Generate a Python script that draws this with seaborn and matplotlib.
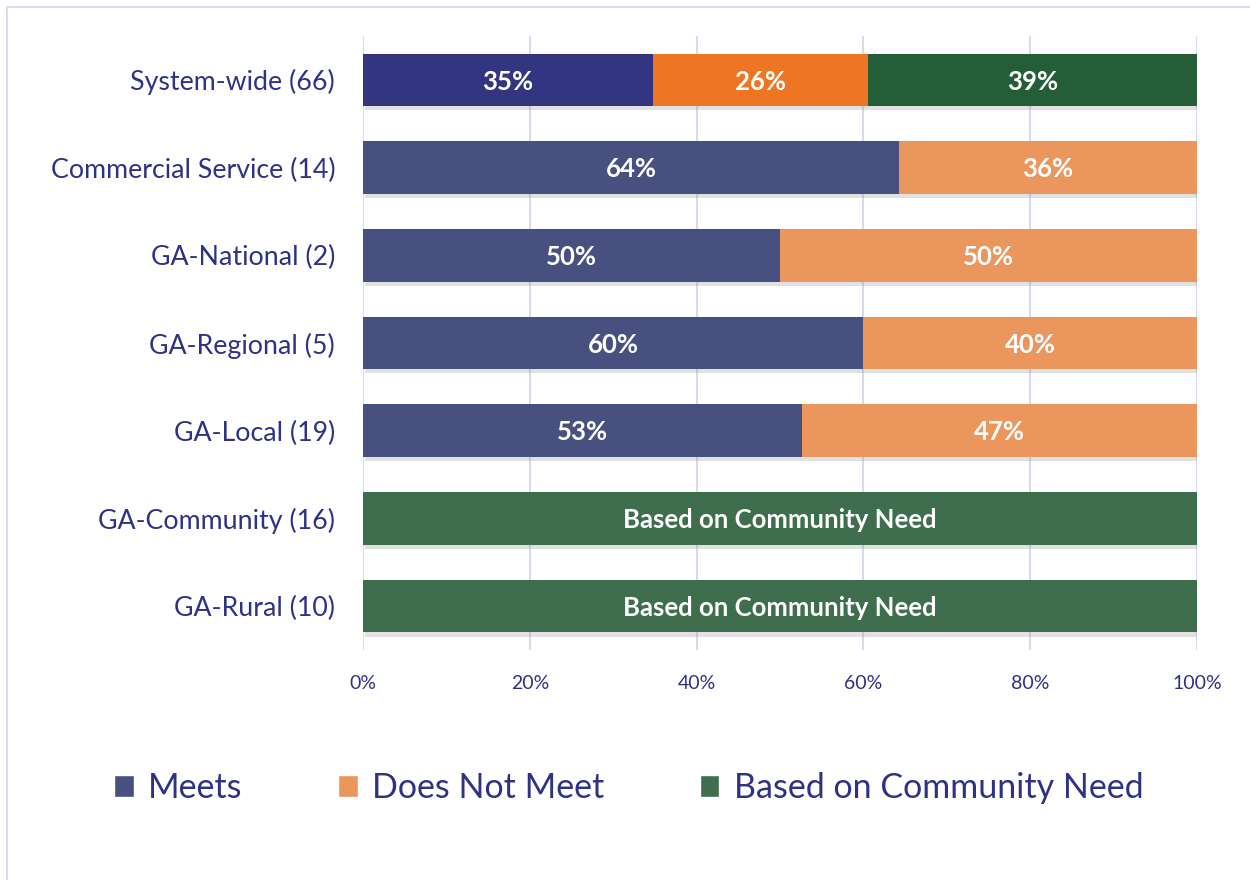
import numpy as np
import pandas as pd
import matplotlib
matplotlib.use('Agg')
from matplotlib import pyplot as plt
from matplotlib import patheffects as pe
from matplotlib.patches import Patch, Rectangle
import seaborn as sns

# --- data ---
categories = ['System-wide (66)', 'Commercial Service (14)', 'GA-National (2)',
              'GA-Regional (5)', 'GA-Local (19)', 'GA-Community (16)', 'GA-Rural (10)']
meets = [34.8, 64.3, 50.0, 60.0, 52.6, 0.0, 0.0]
not_meet = [25.8, 35.7, 50.0, 40.0, 47.4, 0.0, 0.0]
community = [39.4, 0.0, 0.0, 0.0, 0.0, 100.0, 100.0]
meets_lbl = ['35%', '64%', '50%', '60%', '53%', '', '']
not_meet_lbl = ['26%', '36%', '50%', '40%', '47%', '', '']
community_lbl = ['39%', '', '', '', '', 'Based on Community Need', 'Based on Community Need']
series_names = ['Meets', 'Does Not Meet', 'Based on Community Need']
xticks = [0, 20, 40, 60, 80, 100]

# colours: first row is darker than the rest
c_meets, c_not, c_comm = '#48507F', '#EB965D', '#3E6E4E'
c_meets0, c_not0, c_comm0 = '#333580', '#EE7623', '#235E38'
txt_col = '#2E3284'
grid_col = '#D9D9EE'

sns.set_theme(style='white')
plt.rcParams['font.family'] = ['Lato', 'DejaVu Sans']

df = pd.DataFrame({'cat': categories, 'meets': meets, 'not_meet': not_meet,
                   'community': community})
df['cum2'] = df['meets'] + df['not_meet']
df['cum3'] = df['cum2'] + df['community']

fig = plt.figure(figsize=(12.5, 8.8), dpi=100)
ax = fig.add_axes([0.2904, 0.2614, 0.6672, 0.6977])

for x in xticks:
    ax.axvline(x, color=grid_col, lw=1.5, zorder=0)

# stacked bars drawn as overlapping cumulative layers
layers = [('cum3', c_comm, c_comm0), ('cum2', c_not, c_not0), ('meets', c_meets, c_meets0)]
for i, (col, c, c0) in enumerate(layers):
    n_before = len(ax.patches)
    sns.barplot(data=df, x=col, y='cat', orient='h', color=c, saturation=1,
                width=0.6, ax=ax, zorder=2 + i)
    new = ax.patches[n_before:]
    new[0].set_facecolor(c0)
    for p in new:
        p.set_edgecolor('none')
        if i == 0:
            p.set_path_effects([pe.SimplePatchShadow(offset=(1.5, -3), shadow_rgbFace='#888888',
                                                      alpha=0.25), pe.Normal()])

# segment labels
for r in range(len(categories)):
    segs = [(0, meets[r], meets_lbl[r]),
            (meets[r], not_meet[r], not_meet_lbl[r]),
            (meets[r] + not_meet[r], community[r], community_lbl[r])]
    for left, w, lbl in segs:
        if lbl:
            ax.text(left + w / 2, r + 0.02, lbl, ha='center', va='center', color='white',
                    fontsize=18.5, fontweight='bold', zorder=10)

ax.set_xlim(0, 100)
ax.set_ylim(6.5, -0.5)
ax.set_xticks(xticks)
ax.set_xticklabels([f'{t}%' for t in xticks], color=txt_col, fontsize=14)
ax.tick_params(axis='x', pad=18, length=0)
ax.tick_params(axis='y', pad=20, length=0, labelsize=19.3, labelcolor=txt_col)
ax.set_xlabel('')
ax.set_ylabel('')
for s in ax.spines.values():
    s.set_visible(False)

handles = [Patch(facecolor=c) for c in (c_meets, c_not, c_comm)]
fig.legend(handles, series_names, loc='center', bbox_to_anchor=(0.503, 0.105), ncol=3,
           frameon=False, fontsize=24.5, labelcolor=txt_col, handlelength=0.58,
           handleheight=0.62, handletextpad=0.42, columnspacing=2.8)

# outer frame of the chart area
fig.add_artist(Rectangle((0.0056, -0.05), 1.2, 0.992 + 0.05, transform=fig.transFigure,
                         fill=False, edgecolor='#DCDCEE', lw=1.5))

fig.savefig('out.png', dpi=100)
